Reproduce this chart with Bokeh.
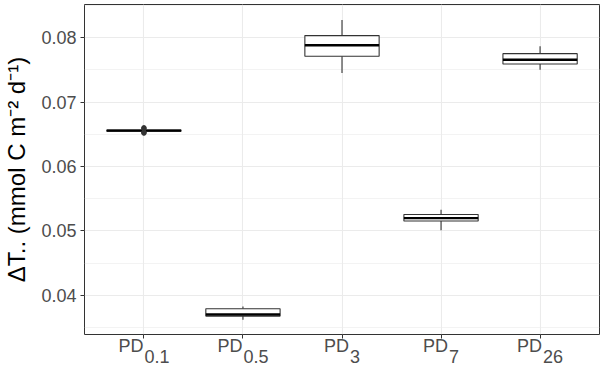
import math
from bokeh.plotting import figure
from bokeh.models import (FactorRange, Range1d, FixedTicker, ColumnDataSource, LinearAxis,
                          PrintfTickFormatter)
from bokeh.embed import file_html
from bokeh.resources import INLINE

# ---- data ----
categories = ["PD0.1", "PD0.5", "PD3", "PD7", "PD26"]
label_main = ["PD", "PD", "PD", "PD", "PD"]
label_sub = ["0.1", "0.5", "3", "7", "26"]
y_min = [0.06540, 0.03625, 0.07450, 0.05010, 0.07500]
q1 = [0.06548, 0.03680, 0.07710, 0.05155, 0.07590]
median = [0.06555, 0.03705, 0.07880, 0.05200, 0.07655]
q3 = [0.06565, 0.03795, 0.08030, 0.05255, 0.07750]
y_max = [0.06575, 0.03830, 0.08270, 0.05330, 0.07865]
outlier_cat = ["PD0.1", "PD0.1", "PD0.1", "PD0.1"]
outlier_val = [0.06600, 0.06585, 0.06530, 0.06518]
y_ticks = [0.04, 0.05, 0.06, 0.07, 0.08]
y_minor = [0.035, 0.045, 0.055, 0.065, 0.075, 0.085]
y_title = "ΔT.. (mmol C m\u207b\u00b2 d\u207b\u00b9)"

FONT = "Liberation Sans"
INK = "#333333"
GRID = "#EBEBEB"
TICKTXT = "#4D4D4D"

# frame geometry in canvas pixels
FL, FR, FT, FB = 83, 599, 4, 334
CW, CH = 603, 369
PAD = 0.04  # factor range padding (fraction of span)

xr = FactorRange(factors=categories, range_padding=PAD)
p = figure(x_range=xr, y_range=Range1d(0.03395, 0.08512),
           width=CW, height=CH, output_backend="svg", toolbar_location=None,
           min_border_left=FL, min_border_right=CW - FR, min_border_top=FT,
           min_border_bottom=CH - FB)
p.background_fill_color = "white"
p.border_fill_color = "white"
p.outline_line_color = INK
p.outline_line_width = 1

# grids
p.xgrid.grid_line_color = GRID
p.xgrid.grid_line_width = 1.1
p.ygrid.grid_line_color = GRID
p.ygrid.grid_line_width = 1.1
p.ygrid.minor_grid_line_color = GRID
p.ygrid.minor_grid_line_width = 0.6

# axes
p.yaxis.ticker = FixedTicker(ticks=y_ticks, minor_ticks=y_minor)
p.yaxis.formatter = PrintfTickFormatter(format="%.2f")
for ax in (p.xaxis, p.yaxis):
    ax.axis_line_color = None
    ax.major_tick_line_color = INK
    ax.major_tick_line_width = 1
    ax.major_tick_out = 4
    ax.major_tick_in = 0
    ax.minor_tick_out = 0
    ax.minor_tick_in = 0
    ax.major_label_text_font = FONT
    ax.major_label_text_color = TICKTXT
p.yaxis.major_label_text_font_size = "18px"
p.yaxis.major_label_standoff = 4
p.yaxis.axis_label = y_title
p.yaxis.axis_label_text_font = FONT
p.yaxis.axis_label_text_font_size = "24px"
p.yaxis.axis_label_text_font_style = "normal"
p.yaxis.axis_label_text_color = "black"
p.yaxis.axis_label_standoff = 8

# primary x axis: tick marks only
p.xaxis.major_label_text_font_size = "1px"
p.xaxis.major_label_text_color = None
p.xaxis.major_label_standoff = 0

# ---- x tick labels "PD" + subscript, as two label-only axes on the same
#      categorical scale, ticks given as synthetic category coordinates ----
n = len(categories)
span = n * (1 + PAD)
ppu = (FR - FL) / span  # pixels per category unit
W = {"P": 0.667, "D": 0.722, "0": 0.556, "1": 0.556, "2": 0.556, "3": 0.556,
     "5": 0.556, "6": 0.556, "7": 0.556, ".": 0.278}
fs = 18
gap = 1
pd_ticks, sub_ticks = [], []
for i, (m, s) in enumerate(zip(label_main, label_sub)):
    wm = sum(W[c] for c in m) * fs
    ws = sum(W[c] for c in s) * fs
    tot = wm + gap + ws
    pd_ticks.append(i + 0.5 + (-tot / 2 + wm / 2) / ppu)
    sub_ticks.append(i + 0.5 + (-tot / 2 + wm + gap + ws / 2) / ppu)

def label_axis(ticks, texts, standoff):
    ax = LinearAxis(ticker=FixedTicker(ticks=ticks, minor_ticks=[]),
                    major_label_overrides={t: s for t, s in zip(ticks, texts)})
    ax.axis_line_color = None
    ax.major_tick_line_color = None
    ax.major_tick_out = 0
    ax.major_tick_in = 0
    ax.minor_tick_line_color = None
    ax.major_label_standoff = standoff
    ax.major_label_text_font = FONT
    ax.major_label_text_font_size = f"{fs}px"
    ax.major_label_text_color = TICKTXT
    return ax

p.add_layout(label_axis(pd_ticks, label_main, -3), "below")
p.add_layout(label_axis(sub_ticks, label_sub, -9), "below")

src = ColumnDataSource(dict(cat=categories, lo=y_min, q1=q1, med=median, q3=q3, hi=y_max))
p.segment(x0="cat", y0="q3", x1="cat", y1="hi", source=src, line_color=INK, line_width=1.1)
p.segment(x0="cat", y0="lo", x1="cat", y1="q1", source=src, line_color=INK, line_width=1.1)
p.vbar(x="cat", width=0.75, bottom="q1", top="q3", source=src,
       fill_color="white", line_color=INK, line_width=1.1)
p.vbar(x="cat", width=0.75, bottom="med", top="med", source=src,
       fill_color=None, line_color="black", line_width=2.3)
p.scatter(x=outlier_cat, y=outlier_val, size=4.5, color=INK)

open("out.html", "w").write(file_html(p, INLINE))
